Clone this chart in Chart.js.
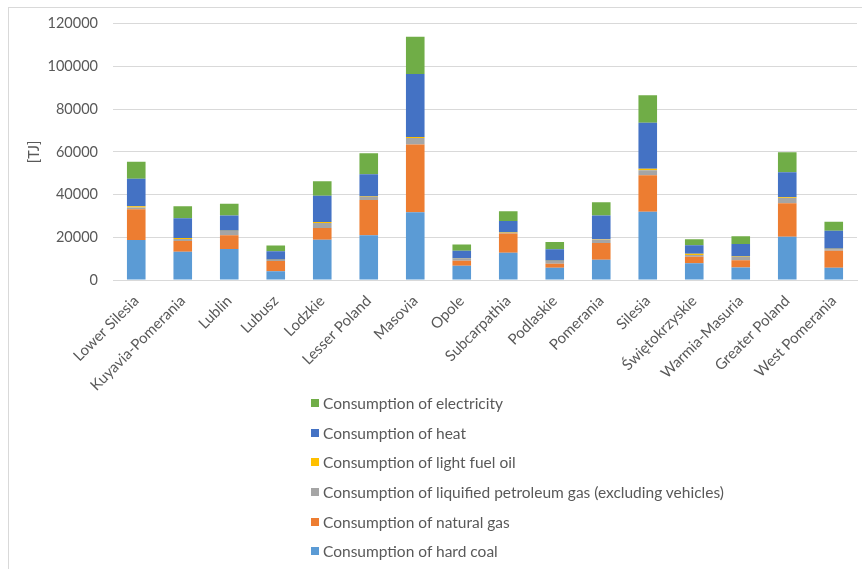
<!DOCTYPE html>
<html>
<head>
<meta charset="utf-8">
<script src="https://cdn.jsdelivr.net/npm/chart.js@4/dist/chart.umd.min.js"></script>
<style>
  html, body { margin: 0; padding: 0; background: #ffffff; }
  #wrap { position: relative; width: 862px; height: 569px; overflow: hidden; }
  #frame { position: absolute; left: 8px; top: 7px; width: 900px; height: 600px; border: 1px solid #d9d9d9; box-sizing: border-box; }
  #c { position: absolute; left: 0; top: 0; }
  #legend { position: absolute; left: 311px; top: 388px; font-family: Lato, "Liberation Sans", sans-serif; font-size: 15.5px; color: #595959; }
  .li { height: 29.7px; display: flex; align-items: center; white-space: nowrap; }
  .sw { width: 8px; height: 8px; margin-right: 4px; flex: none; }
</style>
</head>
<body>
<div id="wrap">
  <div id="frame"></div>
  <canvas id="c" width="862" height="569"></canvas>
  <div id="legend"></div>
</div>
<script>
const categories = ['Lower Silesia','Kuyavia-Pomerania','Lublin','Lubusz','Lodzkie','Lesser Poland','Masovia','Opole','Subcarpathia','Podlaskie','Pomerania','Silesia','Świętokrzyskie','Warmia-Masuria','Greater Poland','West Pomerania'];

const hardCoal     = [18700, 13200, 14500, 4100, 18800, 21000, 31700, 6700, 12750, 5750, 9500, 32000, 7900, 5900, 20200, 5750];
const naturalGas   = [14400, 5100, 6400, 4800, 5600, 16450, 31700, 2350, 9000, 1850, 7800, 17100, 2950, 3300, 15700, 7900];
const lpg          = [900, 900, 2000, 450, 2300, 1400, 3100, 900, 300, 1250, 1700, 2300, 800, 1550, 2500, 800];
const lightFuelOil = [500, 500, 200, 150, 500, 200, 500, 150, 150, 150, 200, 650, 600, 250, 300, 200];
const heat         = [12900, 9200, 7100, 4000, 12300, 10500, 29500, 3600, 5450, 5450, 11000, 21600, 4050, 5800, 11800, 8400];
const electricity  = [8000, 5600, 5450, 2600, 6700, 9800, 17400, 2950, 4500, 3300, 6200, 12900, 2800, 3700, 9300, 4200];

const yTicks = [0, 20000, 40000, 60000, 80000, 100000, 120000];

const seriesNames = [
  'Consumption of hard coal',
  'Consumption of natural gas',
  'Consumption of liquified petroleum gas (excluding vehicles)',
  'Consumption of light fuel oil',
  'Consumption of heat',
  'Consumption of electricity'
];
const seriesData = [hardCoal, naturalGas, lpg, lightFuelOil, heat, electricity];
const seriesColors = ['#5B9BD5', '#ED7D31', '#A5A5A5', '#FFC000', '#4472C4', '#70AD47'];

const FONT = 'Lato, "Liberation Sans", sans-serif';
const TXT = '#595959';

const datasets = seriesNames.map((n, i) => ({
  label: n,
  data: seriesData[i],
  backgroundColor: seriesColors[i],
  borderWidth: 0,
  barPercentage: 0.4,
  categoryPercentage: 1.0
}));

const chart = new Chart(document.getElementById('c'), {
  type: 'bar',
  data: { labels: categories, datasets },
  options: {
    responsive: false,
    animation: false,
    devicePixelRatio: 1,
    layout: { padding: { top: 23, right: 5, left: 0, bottom: 0 } },
    plugins: {
      legend: { display: false },
      tooltip: { enabled: false }
    },
    scales: {
      x: {
        stacked: true,
        grid: { display: false, drawTicks: false },
        border: { display: true, color: '#d9d9d9', width: 1 },
        ticks: {
          color: TXT,
          font: { family: FONT, size: 15 },
          maxRotation: 45,
          minRotation: 45,
          autoSkip: false,
          padding: 12
        },
        afterFit: s => { s.height = 289; }
      },
      y: {
        stacked: true,
        min: 0,
        max: 120000,
        afterBuildTicks: s => { s.ticks = yTicks.map(v => ({ value: v })); },
        grid: { color: '#d9d9d9', lineWidth: 1, drawTicks: false },
        border: { display: false },
        ticks: {
          color: TXT,
          font: { family: FONT, size: 14.5 },
          padding: 15,
          callback: v => String(v)
        },
        title: {
          display: true,
          text: '[TJ]',
          color: TXT,
          font: { family: FONT, size: 14.5 },
          padding: { top: 26, bottom: 0 }
        },
        afterFit: s => { s.width = 113; }
      }
    }
  }
});

const lg = document.getElementById('legend');
for (let i = seriesNames.length - 1; i >= 0; i--) {
  const row = document.createElement('div');
  row.className = 'li';
  const sw = document.createElement('span');
  sw.className = 'sw';
  sw.style.background = seriesColors[i];
  const t = document.createElement('span');
  t.textContent = chart.data.datasets[i].label;
  row.appendChild(sw);
  row.appendChild(t);
  lg.appendChild(row);
}
</script>
</body>
</html>
